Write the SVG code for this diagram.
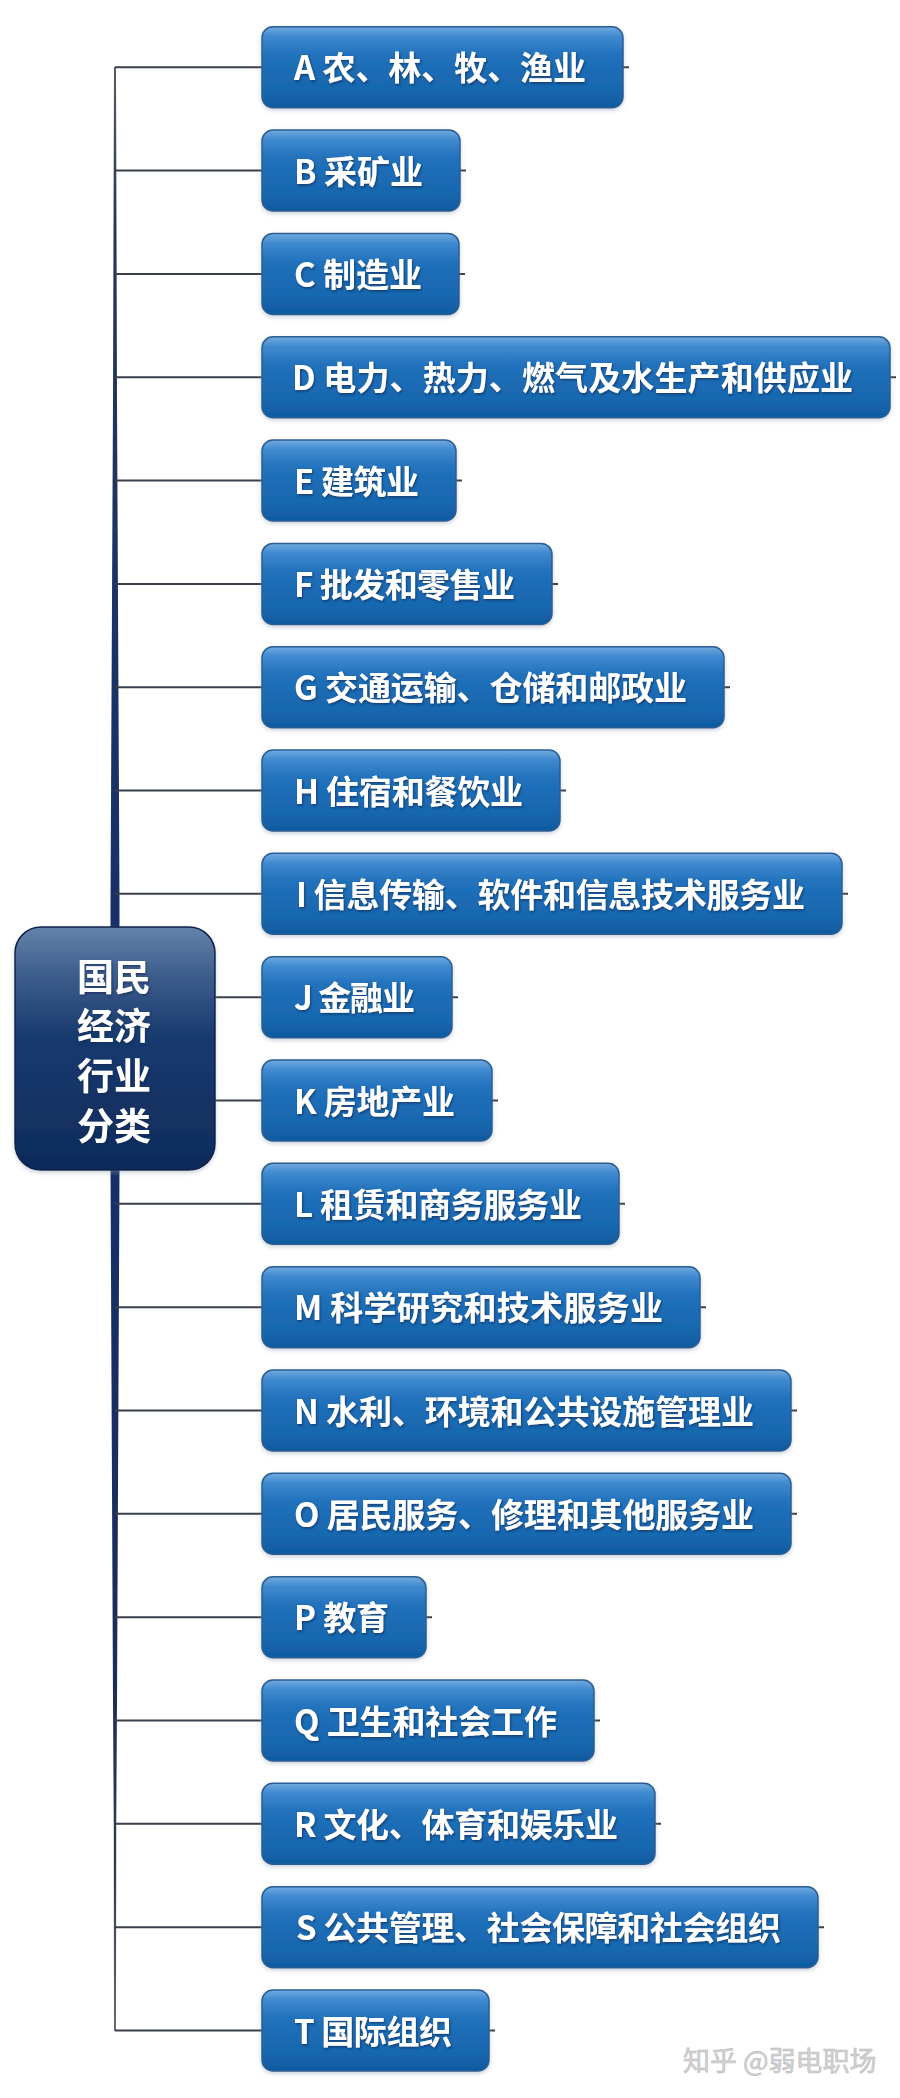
<svg xmlns="http://www.w3.org/2000/svg" width="900" height="2098" viewBox="0 0 900 2098">
<defs>
<linearGradient id="boxg" x1="0" y1="0" x2="0" y2="1">
<stop offset="0" stop-color="#72aadf"/>
<stop offset="0.12" stop-color="#3f8ad0"/>
<stop offset="0.35" stop-color="#2171bb"/>
<stop offset="0.8" stop-color="#1766ae"/>
<stop offset="1" stop-color="#0f5aa0"/>
</linearGradient>
<linearGradient id="rootg" x1="0" y1="0" x2="0" y2="1">
<stop offset="0" stop-color="#6482ab"/>
<stop offset="0.2" stop-color="#3d5d8c"/>
<stop offset="0.45" stop-color="#183a6e"/>
<stop offset="1" stop-color="#0f2b5b"/>
</linearGradient>
<linearGradient id="barg" gradientUnits="userSpaceOnUse" x1="0" y1="67" x2="0" y2="2031">
<stop offset="0" stop-color="#5a5c63"/>
<stop offset="0.08" stop-color="#283458"/>
<stop offset="0.3" stop-color="#1a3366"/>
<stop offset="0.55" stop-color="#15306a"/>
<stop offset="0.82" stop-color="#1d2c58"/>
<stop offset="0.92" stop-color="#33394d"/>
<stop offset="1" stop-color="#6a6a6e"/>
</linearGradient>
<filter id="ts" x="-5%" y="-20%" width="110%" height="140%">
<feDropShadow dx="1" dy="1.5" stdDeviation="1" flood-color="#0a2a55" flood-opacity="0.7"/>
</filter>
<filter id="bs" x="-5%" y="-10%" width="110%" height="130%">
<feDropShadow dx="0" dy="2" stdDeviation="2" flood-color="#8a9ab0" flood-opacity="0.45"/>
</filter>
</defs>
<style>
.box{fill:url(#boxg);stroke:#2a5d92;stroke-width:1.5;filter:url(#bs)}
.lbl{fill:#ffffff;font-family:"Noto Sans CJK SC","Noto Sans",sans-serif;font-weight:700;font-size:33px;filter:url(#ts)}
.root{fill:url(#rootg);stroke:#0c2247;stroke-width:1.5;filter:url(#bs)}
.rlbl{fill:#ffffff;font-family:"Noto Sans CJK SC","Noto Sans",sans-serif;font-weight:700;font-size:37px;text-anchor:middle;filter:url(#ts)}
.ln{stroke:#3a3f4c;stroke-width:2;fill:none}
.wm{fill:#d2d2d2;stroke:#bdbdbd;stroke-width:0.6;font-family:"Noto Sans CJK SC","Noto Sans",sans-serif;font-size:27px}
</style>
<rect width="900" height="2098" fill="#ffffff"/>
<g id="connectors">
<polygon fill="url(#barg)" points="114,67 116,67 117,400 119.5,900 119.5,1170 117,1700 116.2,1830 116,2031 114,2031 113.8,1830 113,1700 110.5,1170 110.5,900 113,400"/>
<path class="ln" d="M115,67.2H262M623,67.2h6M115,170.5H262M460,170.5h6M115,273.9H262M459,273.9h6M115,377.2H262M890,377.2h6M115,480.5H262M456,480.5h6M115,583.9H262M552,583.9h6M115,687.2H262M724,687.2h6M115,790.5H262M560,790.5h6M115,893.8H262M842,893.8h6M115,997.2H262M452,997.2h6M115,1100.5H262M492,1100.5h6M115,1203.8H262M619,1203.8h6M115,1307.2H262M700,1307.2h6M115,1410.5H262M791,1410.5h6M115,1513.8H262M791,1513.8h6M115,1617.2H262M426,1617.2h6M115,1720.5H262M594,1720.5h6M115,1823.8H262M655,1823.8h6M115,1927.2H262M818,1927.2h6M115,2030.5H262M489,2030.5h6"/>
</g>
<g id="root">
<rect class="root" x="15" y="927" width="200" height="243" rx="26"/>
<text class="rlbl" x="114" y="991">国民</text>
<text class="rlbl" x="114" y="1040">经济</text>
<text class="rlbl" x="114" y="1090">行业</text>
<text class="rlbl" x="114" y="1140">分类</text>
</g>
<g id="node-A"><rect class="box" x="262" y="26.7" width="361" height="81" rx="11"/><text class="lbl" x="294" y="80.2" textLength="292" lengthAdjust="spacing">A 农、林、牧、渔业</text></g>
<g id="node-B"><rect class="box" x="262" y="130" width="198" height="81" rx="11"/><text class="lbl" x="294" y="183.5" textLength="129" lengthAdjust="spacing">B 采矿业</text></g>
<g id="node-C"><rect class="box" x="262" y="233.4" width="197" height="81" rx="11"/><text class="lbl" x="294" y="286.9" textLength="128" lengthAdjust="spacing">C 制造业</text></g>
<g id="node-D"><rect class="box" x="262" y="336.7" width="628" height="81" rx="11"/><text class="lbl" x="292" y="390.2" textLength="561" lengthAdjust="spacing">D 电力、热力、燃气及水生产和供应业</text></g>
<g id="node-E"><rect class="box" x="262" y="440" width="194" height="81" rx="11"/><text class="lbl" x="294" y="493.5" textLength="125" lengthAdjust="spacing">E 建筑业</text></g>
<g id="node-F"><rect class="box" x="262" y="543.4" width="290" height="81" rx="11"/><text class="lbl" x="294" y="596.9" textLength="221" lengthAdjust="spacing">F 批发和零售业</text></g>
<g id="node-G"><rect class="box" x="262" y="646.7" width="462" height="81" rx="11"/><text class="lbl" x="294" y="700.2" textLength="393" lengthAdjust="spacing">G 交通运输、仓储和邮政业</text></g>
<g id="node-H"><rect class="box" x="262" y="750" width="298" height="81" rx="11"/><text class="lbl" x="294" y="803.5" textLength="229" lengthAdjust="spacing">H 住宿和餐饮业</text></g>
<g id="node-I"><rect class="box" x="262" y="853.3" width="580" height="81" rx="11"/><text class="lbl" x="296" y="906.8" textLength="509" lengthAdjust="spacing">I 信息传输、软件和信息技术服务业</text></g>
<g id="node-J"><rect class="box" x="262" y="956.7" width="190" height="81" rx="11"/><text class="lbl" x="294" y="1010.2" textLength="121" lengthAdjust="spacing">J 金融业</text></g>
<g id="node-K"><rect class="box" x="262" y="1060" width="230" height="81" rx="11"/><text class="lbl" x="294" y="1113.5" textLength="161" lengthAdjust="spacing">K 房地产业</text></g>
<g id="node-L"><rect class="box" x="262" y="1163.3" width="357" height="81" rx="11"/><text class="lbl" x="294" y="1216.8" textLength="288" lengthAdjust="spacing">L 租赁和商务服务业</text></g>
<g id="node-M"><rect class="box" x="262" y="1266.7" width="438" height="81" rx="11"/><text class="lbl" x="294" y="1320.2" textLength="369" lengthAdjust="spacing">M 科学研究和技术服务业</text></g>
<g id="node-N"><rect class="box" x="262" y="1370" width="529" height="81" rx="11"/><text class="lbl" x="294" y="1423.5" textLength="460" lengthAdjust="spacing">N 水利、环境和公共设施管理业</text></g>
<g id="node-O"><rect class="box" x="262" y="1473.3" width="529" height="81" rx="11"/><text class="lbl" x="294" y="1526.8" textLength="460" lengthAdjust="spacing">O 居民服务、修理和其他服务业</text></g>
<g id="node-P"><rect class="box" x="262" y="1576.7" width="164" height="81" rx="11"/><text class="lbl" x="294" y="1630.2" textLength="95" lengthAdjust="spacing">P 教育</text></g>
<g id="node-Q"><rect class="box" x="262" y="1680" width="332" height="81" rx="11"/><text class="lbl" x="294" y="1733.5" textLength="263" lengthAdjust="spacing">Q 卫生和社会工作</text></g>
<g id="node-R"><rect class="box" x="262" y="1783.3" width="393" height="81" rx="11"/><text class="lbl" x="294" y="1836.8" textLength="324" lengthAdjust="spacing">R 文化、体育和娱乐业</text></g>
<g id="node-S"><rect class="box" x="262" y="1886.7" width="556" height="81" rx="11"/><text class="lbl" x="296" y="1940.2" textLength="485" lengthAdjust="spacing">S 公共管理、社会保障和社会组织</text></g>
<g id="node-T"><rect class="box" x="262" y="1990" width="227" height="81" rx="11"/><text class="lbl" x="294" y="2043.5" textLength="158" lengthAdjust="spacing">T 国际组织</text></g>
<text class="wm" x="683" y="2071">知乎 @弱电职场</text>
</svg>
